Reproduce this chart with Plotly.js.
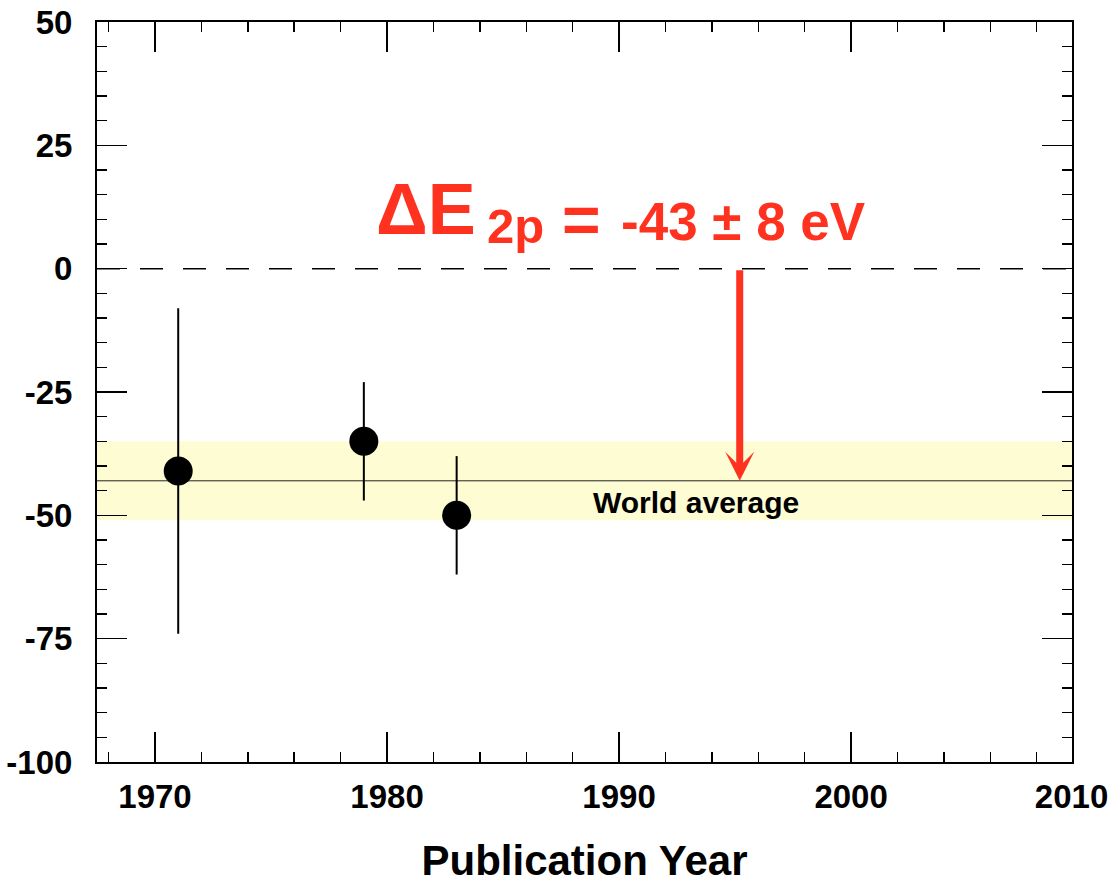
<!DOCTYPE html>
<html>
<head>
<meta charset="utf-8">
<script src="https://cdn.plot.ly/plotly-3.0.1.min.js"></script>
<style>html,body{margin:0;padding:0;background:#fff;}#chart{width:1108px;height:887px;}</style>
</head>
<body>
<div id="chart"></div>
<script>
// ---- data ----
const years = [1971, 1979, 1983];
const shifts = [-41, -35, -50];
const shiftErrors = [33, 12, 12];
const worldAverage = -43;
const worldAverageError = 8;
const xTickVals = [1970, 1980, 1990, 2000, 2009.5];
const xTickText = ['1970', '1980', '1990', '2000', '2010'];
const yTickVals = [-100, -75, -50, -25, 0, 25, 50];
const yTickText = ['-100', '-75', '-50', '-25', '0', '25', '50'];
const arrowYear = 1995.2;
const resultLabel = {delta: 'ΔE', sub: '2p', eq: '=', value: '-43 ± 8 eV'};

// ---- style ----
const SANS = '"Liberation Sans", Arial, sans-serif';
const RED = '#ff3220';

const xRange = [1967.5, 2009.52];
const yRange = [-100, 50];

const traces = [{
  type: 'scatter',
  mode: 'markers',
  x: years,
  y: shifts,
  error_y: {type: 'data', array: shiftErrors, visible: true, color: '#000', thickness: 2, width: 0},
  marker: {color: '#000', size: 29},
  showlegend: false,
  hoverinfo: 'x+y'
}];

const axisCommon = {
  showgrid: false,
  zeroline: false,
  showline: true,
  linecolor: '#000',
  linewidth: 2,
  mirror: 'allticks',
  ticks: 'inside',
  ticklen: 30,
  tickwidth: 1.5,
  tickcolor: '#000',
  ticklabeloverflow: 'allow',
  tickfont: {family: SANS, size: 33, color: '#000', weight: 'bold'}
};

const layout = {
  width: 1108,
  height: 887,
  margin: {l: 97, r: 36, t: 22, b: 125},
  paper_bgcolor: '#fff',
  plot_bgcolor: '#fff',
  showlegend: false,
  xaxis: Object.assign({}, axisCommon, {
    range: xRange,
    tickmode: 'array',
    tickvals: xTickVals,
    ticktext: xTickText,
    ticklabelstandoff: 4,
    minor: {dtick: 2, tick0: 1970, ticks: 'inside', ticklen: 10, tickwidth: 1.5, tickcolor: '#000', showgrid: false},
    title: {text: 'Publication Year', font: {family: SANS, size: 42, color: '#000', weight: 'bold'}, standoff: 32}
  }),
  yaxis: Object.assign({}, axisCommon, {
    range: yRange,
    tickmode: 'array',
    tickvals: yTickVals,
    ticktext: yTickText,
    ticklabelstandoff: 16,
    minor: {dtick: 5, tick0: 0, ticks: 'inside', ticklen: 10, tickwidth: 1.5, tickcolor: '#000', showgrid: false}
  }),
  shapes: [
    {type: 'rect', xref: 'paper', yref: 'y', x0: 0, x1: 1,
     y0: worldAverage - worldAverageError, y1: worldAverage + worldAverageError,
     fillcolor: '#fefcd2', line: {width: 0}, layer: 'below'},
    {type: 'line', xref: 'paper', yref: 'y', x0: 0, x1: 1, y0: worldAverage, y1: worldAverage,
     line: {color: '#222', width: 1}, layer: 'below'},
    {type: 'line', xref: 'paper', yref: 'y', x0: 0, x1: 1, y0: 0, y1: 0,
     line: {color: '#000', width: 1.5, dash: '23px,20px'}, layer: 'below'}
  ],
  annotations: [
    {xref: 'x', yref: 'y', x: arrowYear, y: worldAverage, axref: 'x', ayref: 'y', ax: arrowYear, ay: 0,
     text: '', showarrow: true, arrowhead: 3, arrowsize: 0.69, arrowwidth: 7, arrowcolor: RED, standoff: 0},
    {xref: 'x', yref: 'y', x: 1979.44, y: 12.1, xanchor: 'left', yanchor: 'middle', showarrow: false,
     text: resultLabel.delta, font: {family: SANS, size: 72, color: RED, weight: 'bold'}},
    {xref: 'x', yref: 'y', x: 1984.22, y: 8.65, xanchor: 'left', yanchor: 'middle', showarrow: false,
     text: resultLabel.sub, font: {family: SANS, size: 49, color: RED, weight: 'bold'}},
    {xref: 'x', yref: 'y', x: 1987.45, y: 9.94, xanchor: 'left', yanchor: 'middle', showarrow: false,
     text: resultLabel.eq, font: {family: SANS, size: 66, color: RED, weight: 'bold'}},
    {xref: 'x', yref: 'y', x: 1990.0, y: 9.54, xanchor: 'left', yanchor: 'middle', showarrow: false,
     text: resultLabel.value, font: {family: SANS, size: 53, color: RED, weight: 'bold'}},
    {xref: 'x', yref: 'y', x: 1993.31, y: -47.3, xanchor: 'center', yanchor: 'middle', showarrow: false,
     text: 'World average', font: {family: SANS, size: 30, color: '#000', weight: 'bold'}}
  ]
};

Plotly.newPlot('chart', traces, layout, {displayModeBar: false, staticPlot: true});
</script>
</body>
</html>
